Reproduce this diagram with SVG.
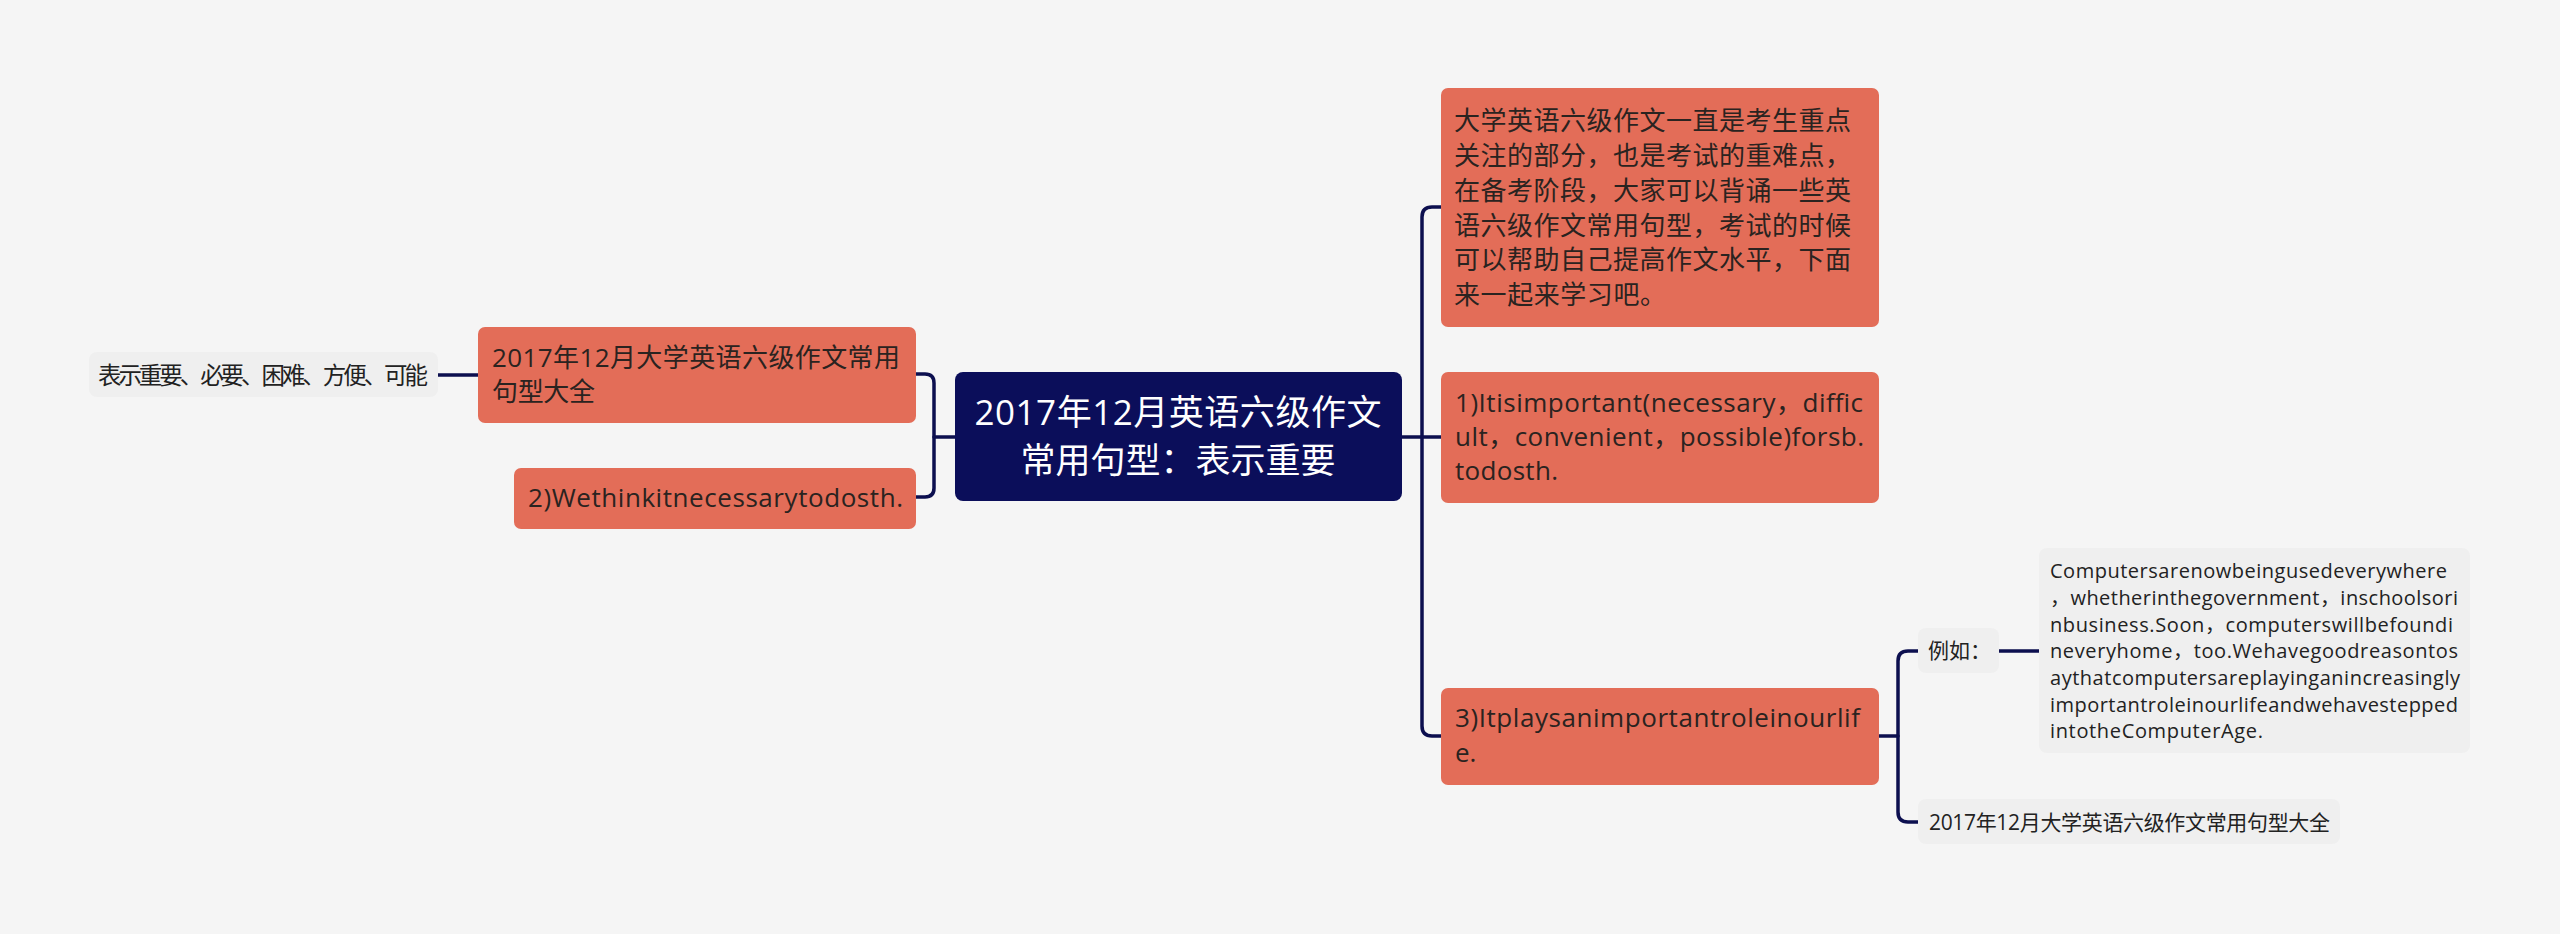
<svg xmlns="http://www.w3.org/2000/svg" width="2560" height="934" viewBox="0 0 2560 934">
<style>
.t{font-family:"Open Sans","Noto Sans CJK SC",sans-serif;}
.root{fill:#0b0e5a;}
.org{fill:#e36d58;}
.leaf{fill:#efefef;}
.wt{fill:#ffffff;font-size:35px;}
.ot{fill:#2a2320;font-size:26px;}
.lt{fill:#222222;}
.c{fill:none;stroke:#0c0f4f;stroke-width:3.5;stroke-linecap:round;}
</style>
<rect width="2560" height="934" fill="#f5f5f5"/>
<g id="connectors">
<path class="c" d="M438,375 H478"/>
<path class="c" d="M916,374 H925 Q934,374 934,383 V488 Q934,497 925,497 H916"/>
<path class="c" d="M934,437 H955"/>
<path class="c" d="M1441,207 H1432 Q1422,207 1422,217 V726 Q1422,736 1432,736 H1441"/>
<path class="c" d="M1402,437 H1441"/>
<path class="c" d="M1879,736 H1898"/>
<path class="c" d="M1918,651 H1908 Q1898,651 1898,661 V812 Q1898,822 1908,822 H1918"/>
<path class="c" d="M1999,651 H2039"/>
</g>
<g id="root">
<rect class="root" x="955" y="372" width="447" height="129" rx="8"/>
<text class="t wt" x="1178" y="425" text-anchor="middle" textLength="407">2017年12月英语六级作文</text>
<text class="t wt" x="1178" y="473" text-anchor="middle" textLength="315">常用句型：表示重要</text>
</g>
<g id="left1">
<rect class="org" x="478" y="327" width="438" height="96" rx="7"/>
<text class="t ot" x="492" y="367" textLength="408">2017年12月大学英语六级作文常用</text>
<text class="t ot" x="492" y="401" textLength="103">句型大全</text>
</g>
<g id="left2">
<rect class="org" x="514" y="468" width="402" height="61" rx="7"/>
<text class="t ot" x="528" y="507" textLength="375">2)Wethinkitnecessarytodosth.</text>
</g>
<g id="leafLeft">
<rect class="leaf" x="89" y="352" width="349" height="45" rx="8"/>
<text class="t lt" x="98" y="384" font-size="23.5" textLength="330">表示重要、必要、困难、方便、可能</text>
</g>
<g id="right0">
<rect class="org" x="1441" y="88" width="438" height="239" rx="7"/>
<text class="t ot" x="1454" y="130" textLength="397">大学英语六级作文一直是考生重点</text>
<text class="t ot" x="1454" y="165" textLength="397">关注的部分，也是考试的重难点，</text>
<text class="t ot" x="1454" y="200" textLength="397">在备考阶段，大家可以背诵一些英</text>
<text class="t ot" x="1454" y="235" textLength="397">语六级作文常用句型，考试的时候</text>
<text class="t ot" x="1454" y="269" textLength="397">可以帮助自己提高作文水平，下面</text>
<text class="t ot" x="1454" y="304" textLength="212">来一起来学习吧。</text>
</g>
<g id="right1">
<rect class="org" x="1441" y="372" width="438" height="131" rx="7"/>
<text class="t ot" x="1455" y="412" textLength="408">1)Itisimportant(necessary，diffic</text>
<text class="t ot" x="1455" y="446" textLength="409">ult，convenient，possible)forsb.</text>
<text class="t ot" x="1455" y="480" textLength="103">todosth.</text>
</g>
<g id="right3">
<rect class="org" x="1441" y="688" width="438" height="97" rx="7"/>
<text class="t ot" x="1455" y="727" textLength="405">3)Itplaysanimportantroleinourlif</text>
<text class="t ot" x="1455" y="762">e.</text>
</g>
<g id="example">
<rect class="leaf" x="1918" y="628" width="81" height="45" rx="8"/>
<text class="t lt" x="1928" y="658" font-size="21">例如：</text>
</g>
<g id="exampleText">
<rect class="leaf" x="2039" y="548" width="431" height="205" rx="8"/>
<g class="t lt" font-size="20">
<text x="2050" y="578" textLength="397">Computersarenowbeingusedeverywhere</text>
<text x="2050" y="605" textLength="408">，whetherinthegovernment，inschoolsori</text>
<text x="2050" y="632" textLength="403">nbusiness.Soon，computerswillbefoundi</text>
<text x="2050" y="658" textLength="408">neveryhome，too.Wehavegoodreasontos</text>
<text x="2050" y="685" textLength="410">aythatcomputersareplayinganincreasingly</text>
<text x="2050" y="712" textLength="408">importantroleinourlifeandwehavestepped</text>
<text x="2050" y="738" textLength="213">intotheComputerAge.</text>
</g>
</g>
<g id="leafBottom">
<rect class="leaf" x="1918" y="799" width="422" height="45" rx="8"/>
<text class="t lt" x="1929" y="830" font-size="21" textLength="401">2017年12月大学英语六级作文常用句型大全</text>
</g>
</svg>
